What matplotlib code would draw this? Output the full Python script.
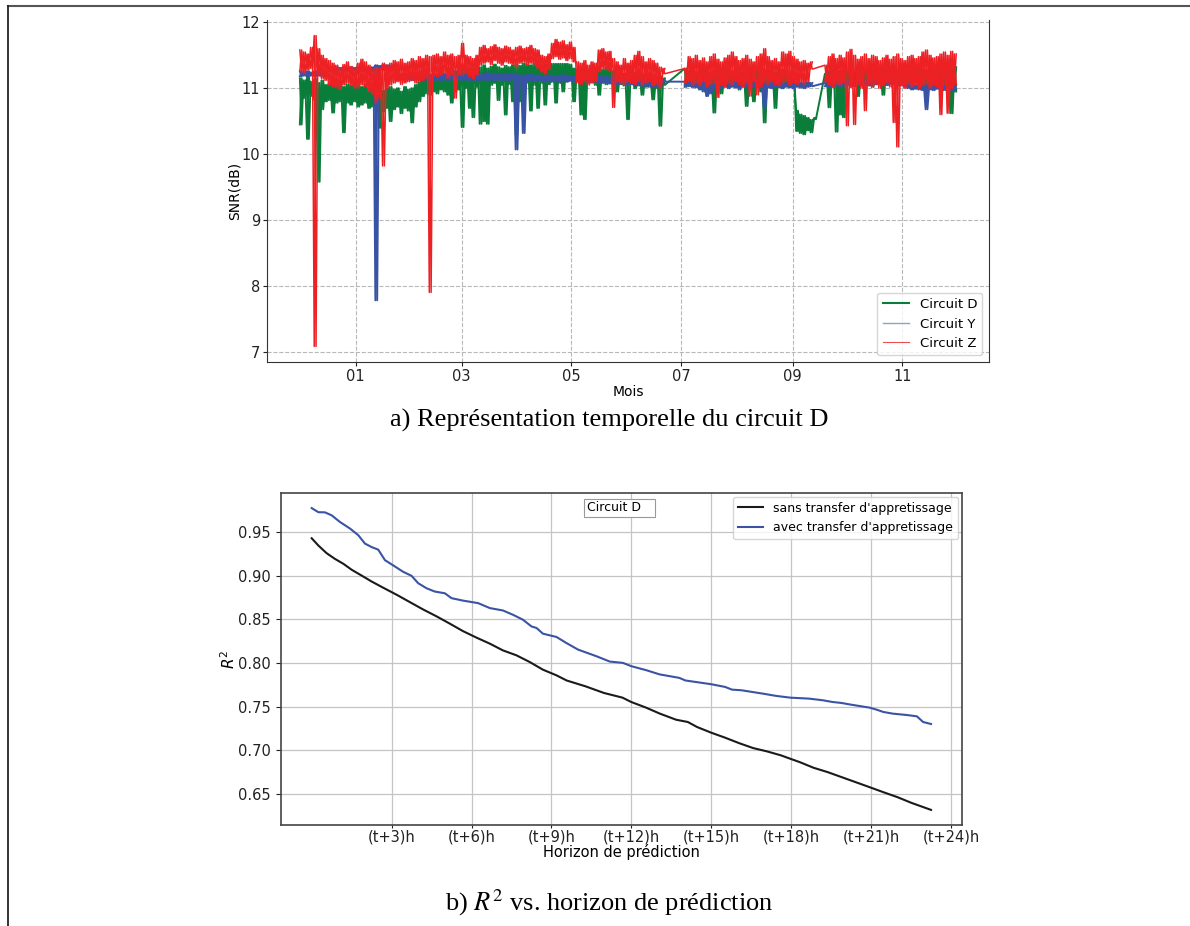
import datetime as dt
import matplotlib
matplotlib.use("Agg")
import matplotlib.pyplot as plt
import matplotlib.dates as mdates
from matplotlib.lines import Line2D

# keep every vertex of the dense bands
plt.rcParams['path.simplify'] = False

# ---- top chart: SNR per circuit, 2-day bins (high / low of the band) ----
start = dt.datetime(2018, 12, 1)

z_hi = [11.58, 11.55, 11.52, 11.62, 11.80, 11.60, 11.50, 11.45, 11.42, 11.38,
        11.35, 11.30, 11.36, 11.40, 11.33, 11.30, 11.38, 11.44, 11.40, 11.35,
        11.30, 11.32, 11.30, 11.38, 11.35, 11.38, 11.42, 11.40, 11.44, 11.38,
        11.40, 11.45, 11.42, 11.48, 11.45, 11.50, 11.48, 11.50, 11.52, 11.48,
        11.55, 11.50, 11.52, 11.48, 11.50, 11.68, 11.50, 11.48, 11.45, 11.50,
        11.62, 11.65, 11.60, 11.63, 11.66, 11.62, 11.60, 11.64, 11.62, 11.58,
        11.62, 11.64, 11.60, 11.62, 11.65, 11.60, 11.58, 11.50, 11.48, 11.52,
        11.68, 11.74, 11.70, 11.72, 11.66, 11.70, 11.62, 11.40, 11.38, 11.42,
        11.35, 11.40, 11.38, 11.58, 11.60, 11.55, 11.56, 11.45, 11.40, 11.35,
        11.45, 11.38, 11.42, 11.50, 11.56, 11.48, 11.40, 11.45, 11.42, 11.38,
        11.32, 11.30, None, None, None, None, None, 11.30, 11.48, 11.45,
        11.50, 11.42, 11.46, 11.40, 11.48, 11.52, 11.44, 11.40, 11.46, 11.50,
        11.55, 11.48, 11.42, 11.45, 11.50, 11.44, 11.40, 11.48, 11.52, 11.60,
        11.48, 11.42, 11.45, 11.40, 11.55, 11.52, 11.56, 11.48, 11.44, 11.40,
        11.42, 11.38, 11.40, None, None, None, 11.35, 11.48, 11.52, 11.45,
        11.50, 11.46, 11.55, 11.59, 11.50, 11.44, 11.48, 11.52, 11.45, 11.50,
        11.48, 11.42, 11.46, 11.50, 11.44, 11.48, 11.52, 11.45, 11.42, 11.48,
        11.50, 11.45, 11.48, 11.55, 11.58, 11.50, 11.46, 11.48, 11.52, 11.55,
        11.50, 11.56, 11.52]
z_lo = [11.25, 11.22, 11.28, 11.30, 7.08, 11.20, 11.15, 11.12, 11.05, 11.02,
        11.00, 10.98, 11.05, 11.08, 11.04, 11.00, 11.00, 11.05, 11.03, 10.95,
        10.90, 10.78, 10.85, 9.82, 11.00, 11.05, 11.08, 11.10, 11.06, 11.08,
        11.10, 11.12, 11.08, 11.10, 11.12, 11.15, 7.90, 11.20, 11.18, 11.20,
        11.22, 11.15, 11.20, 10.85, 11.20, 11.20, 11.22, 11.18, 11.15, 11.20,
        11.35, 11.38, 11.40, 11.36, 11.42, 11.38, 11.35, 11.40, 11.38, 11.36,
        11.32, 11.38, 11.40, 11.36, 11.38, 11.35, 11.30, 11.25, 11.22, 11.28,
        11.45, 11.48, 11.44, 11.46, 11.42, 11.45, 11.40, 11.08, 11.06, 11.10,
        11.05, 11.08, 11.10, 11.25, 11.30, 11.28, 11.26, 10.71, 11.10, 11.08,
        11.05, 11.10, 11.08, 11.06, 11.10, 11.05, 11.08, 11.10, 11.04, 11.06,
        11.00, 11.22, None, None, None, None, None, 11.08, 11.10, 11.05,
        11.08, 11.04, 11.10, 11.02, 11.06, 11.08, 10.86, 11.05, 11.02, 11.08,
        11.05, 11.10, 11.06, 11.02, 11.08, 10.88, 11.10, 10.90, 11.02, 11.08,
        11.05, 11.10, 11.06, 11.04, 11.08, 11.10, 11.05, 11.08, 11.06, 11.09,
        11.06, 11.10, 11.29, None, None, None, 11.10, 11.05, 11.02, 11.06,
        11.04, 11.08, 10.43, 11.02, 10.45, 11.06, 11.00, 10.66, 11.05, 11.02,
        11.06, 11.00, 11.04, 11.08, 11.02, 10.48, 10.11, 11.04, 11.00, 11.06,
        11.02, 11.05, 11.00, 11.04, 11.06, 11.00, 11.04, 11.02, 10.60, 11.05,
        10.62, 11.00, 11.06]

y_hi = [11.26, 11.25, 11.26, 11.24, 11.26, 11.25, 11.26, 11.25, 11.32, 11.31,
        11.32, 11.31, 11.32, 11.30, 11.32, 11.31, 11.32, 11.31, 11.32, 11.31,
        11.32, 11.35, 11.34, 11.36, 11.35, 11.34, 11.36, 11.22, 11.21, 11.22,
        11.20, 11.22, 11.21, 11.22, 11.20, 11.22, 11.21, 11.20, 11.22, 11.21,
        11.22, 11.20, 11.21, 11.22, 11.20, 11.22, 11.21, 11.22, 11.23, 11.21,
        11.22, 11.21, 11.23, 11.22, 11.21, 11.22, 11.20, 11.22, 11.21, 11.22,
        11.21, 11.20, 11.19, 11.20, 11.21, 11.19, 11.20, 11.18, 11.19, 11.20,
        11.19, 11.18, 11.19, 11.20, 11.18, 11.19, 11.18, 11.19, 11.20, 11.18,
        11.19, 11.18, 11.19, 11.18, 11.17, 11.18, 11.16, 11.17, 11.15, 11.16,
        11.15, 11.14, 11.15, 11.13, 11.14, 11.12, 11.13, 11.14, 11.12, 11.13,
        11.12, 11.12, None, None, None, None, None, 11.10, 11.09, 11.10,
        11.08, 11.09, 11.10, 11.06, 11.05, 11.08, 11.09, 11.08, 11.10, 11.09,
        11.08, 11.09, 11.10, 11.08, 11.09, 11.10, 11.08, 11.09, 11.08, 11.09,
        11.08, 11.10, 11.09, 11.08, 11.09, 11.08, 11.10, 11.09, 11.08, 11.09,
        11.08, 11.09, 11.08, None, None, None, 11.08, 11.10, 11.09, 11.11,
        11.10, 11.09, 11.11, 11.10, 11.09, 11.10, 11.11, 11.12, 11.10, 11.11,
        11.13, 11.14, 11.13, 11.14, 11.12, 11.13, 11.14, 11.12, 11.10, 11.08,
        11.06, 11.05, 11.06, 11.05, 11.06, 11.04, 11.05, 11.06, 11.05, 11.06,
        11.05, 11.06, 11.05]
y_lo = [11.18, 11.19, 11.18, 11.19, 11.18, 11.19, 11.18, 11.19, 11.26, 11.27,
        11.26, 11.27, 11.26, 11.27, 11.26, 11.27, 11.26, 11.27, 11.26, 11.27,
        11.26, 7.78, 11.28, 11.27, 11.28, 11.27, 11.28, 11.12, 11.13, 11.12,
        11.13, 11.12, 11.13, 11.12, 11.13, 11.12, 11.13, 11.12, 11.13, 11.12,
        11.13, 11.12, 11.13, 11.12, 11.13, 11.12, 11.13, 11.12, 11.13, 11.12,
        11.12, 11.13, 11.12, 11.13, 11.12, 11.13, 11.12, 11.13, 11.12, 11.13,
        10.07, 11.12, 10.32, 11.11, 11.12, 11.11, 11.12, 11.11, 11.10, 11.11,
        11.10, 11.11, 11.10, 11.11, 11.10, 11.11, 11.10, 11.11, 11.10, 11.11,
        11.10, 11.09, 11.10, 11.08, 11.09, 11.08, 11.07, 11.08, 11.06, 11.07,
        11.06, 11.05, 11.06, 11.04, 11.05, 11.03, 11.04, 11.02, 11.03, 11.02,
        11.03, 11.10, None, None, None, None, None, 11.02, 11.03, 11.02,
        11.01, 11.00, 10.95, 10.88, 10.92, 11.00, 11.02, 11.01, 11.02, 11.00,
        11.02, 11.01, 11.00, 11.02, 11.01, 11.00, 11.02, 11.01, 11.00, 10.70,
        11.01, 11.00, 11.02, 11.01, 11.00, 11.02, 11.01, 11.00, 11.02, 11.01,
        11.00, 11.02, 11.03, None, None, None, 11.03, 11.02, 11.03, 11.04,
        11.03, 11.04, 11.05, 11.04, 11.03, 11.05, 11.06, 11.05, 11.04, 11.06,
        11.06, 11.07, 11.06, 11.05, 11.06, 11.07, 11.05, 11.04, 11.02, 11.00,
        10.98, 10.99, 10.98, 10.97, 10.68, 10.98, 10.97, 10.99, 10.98, 10.97,
        10.98, 10.97, 10.98]

d_hi = [11.15, 11.12, 11.18, 11.10, 11.14, 11.08, 11.12, 11.05, 11.08, 11.10,
        11.05, 11.08, 11.02, 11.06, 11.04, 11.08, 11.05, 11.02, 11.06, 11.00,
        11.04, 10.98, 11.02, 10.96, 11.00, 11.02, 10.98, 11.00, 10.95, 11.02,
        10.98, 11.00, 11.05, 11.10, 11.15, 11.20, 11.18, 11.22, 11.20, 11.25,
        11.22, 11.20, 11.24, 11.26, 11.22, 11.30, 11.32, 11.28, 11.30, 11.34,
        11.32, 11.35, 11.30, 11.33, 11.36, 11.32, 11.30, 11.34, 11.32, 11.35,
        11.36, 11.34, 11.38, 11.36, 11.35, 11.38, 11.36, 11.34, 11.36, 11.37,
        11.37, 11.37, 11.37, 11.37, 11.37, 11.36, 11.30, 11.28, 11.30, 11.32,
        11.28, 11.30, 11.32, 11.30, 11.28, 11.32, 11.30, 11.26, 11.24, 11.26,
        11.22, 11.24, 11.26, 11.22, 11.25, 11.20, 11.22, 11.18, 11.20, 11.16,
        11.18, 11.15, None, None, None, None, None, 11.30, 11.26, 11.28,
        11.24, 11.26, 11.28, 11.25, 11.22, 11.26, 11.28, 11.24, 11.26, 11.28,
        11.25, 11.28, 11.26, 11.24, 11.28, 11.26, 11.25, 11.28, 11.26, 11.24,
        11.28, 11.26, 11.24, 11.26, 11.28, 11.25, 11.20, 11.15, 10.66, 10.60,
        10.58, 10.55, 10.52, 10.55, None, None, 11.22, 11.26, 11.28, 11.24,
        11.26, 11.28, 11.25, 11.28, 11.26, 11.30, 11.28, 11.26, 11.28, 11.30,
        11.28, 11.30, 11.30, 11.30, 11.30, 11.30, 11.28, 11.30, 11.27, 11.26,
        11.28, 11.25, 11.27, 11.28, 11.26, 11.28, 11.25, 11.27, 11.30, 11.28,
        11.26, 11.30, 11.32]
d_lo = [10.45, 10.85, 10.23, 10.88, 10.82, 9.58, 10.68, 10.80, 10.82, 10.63,
        10.78, 10.80, 10.33, 10.78, 10.75, 10.80, 10.72, 10.75, 10.78, 10.70,
        10.72, 10.68, 10.40, 10.65, 10.70, 10.50, 10.68, 10.72, 10.62, 10.70,
        10.66, 10.48, 10.72, 10.80, 10.88, 10.92, 10.90, 10.95, 10.92, 10.98,
        10.95, 10.90, 10.78, 10.95, 10.98, 10.41, 11.00, 10.70, 10.56, 11.02,
        10.46, 10.50, 10.46, 11.05, 11.08, 10.82, 11.05, 10.60, 11.06, 10.80,
        10.30, 10.80, 10.75, 11.08, 10.66, 11.05, 10.70, 11.08, 10.75, 11.06,
        11.10, 10.78, 11.08, 10.95, 11.10, 11.12, 10.80, 11.10, 10.60, 10.53,
        11.08, 11.10, 11.05, 10.90, 11.08, 11.06, 11.10, 11.05, 10.95, 11.06,
        11.04, 10.53, 11.06, 11.00, 11.04, 10.90, 11.02, 11.05, 10.83, 11.00,
        10.43, 11.05, None, None, None, None, None, 11.05, 11.08, 11.02,
        11.05, 10.98, 11.04, 11.02, 11.05, 10.63, 11.04, 10.92, 11.05, 11.02,
        11.04, 11.02, 10.98, 11.05, 10.73, 11.02, 10.80, 11.04, 10.95, 10.48,
        11.02, 11.05, 10.70, 11.04, 11.00, 11.05, 11.02, 11.08, 10.35, 10.32,
        10.30, 10.36, 10.33, 10.53, None, None, 11.10, 10.71, 11.02, 10.34,
        10.60, 10.56, 11.05, 11.02, 11.06, 10.88, 11.04, 11.08, 11.05, 11.02,
        11.06, 11.08, 10.90, 11.05, 11.08, 11.06, 11.04, 11.08, 11.05, 11.02,
        11.05, 11.08, 11.04, 11.06, 10.80, 11.05, 11.02, 11.06, 11.04, 11.05,
        11.02, 10.62, 10.95]

# ---- bottom chart: R2 vs prediction horizon (hours) ----
h_sans = [0, 0.25, 0.56, 0.87, 1.19, 1.5, 1.87, 2.25, 2.69, 3.19,
          3.69, 4.18, 4.69, 5.19, 5.68, 6.19, 6.69, 7.18, 7.69, 8.19,
          8.68, 9.19, 9.57, 10.27, 10.97, 11.67, 11.99, 12.55, 13.07, 13.68,
          14.12, 14.47, 15.0, 15.52, 16.04, 16.57, 17.09, 17.62, 17.97, 18.32,
          18.84, 19.37, 19.89, 20.42, 20.94, 21.46, 21.99, 22.51, 23.25]
r2_sans = [0.9431, 0.9348, 0.926, 0.9195, 0.9138, 0.907, 0.9004, 0.8935, 0.8863, 0.8783,
           0.8698, 0.8615, 0.8535, 0.8451, 0.8366, 0.8291, 0.8222, 0.8145, 0.8088, 0.8011,
           0.7924, 0.7859, 0.780, 0.7734, 0.7657, 0.7603, 0.7554, 0.7489, 0.742, 0.735,
           0.7324, 0.7266, 0.7201, 0.7144, 0.7082, 0.7025, 0.6987, 0.6941, 0.6902, 0.6864,
           0.6799, 0.6749, 0.6692, 0.6634, 0.6577, 0.6519, 0.6462, 0.6397, 0.6316]
h_avec = [0, 0.25, 0.5, 0.75, 1.06, 1.44, 1.75, 2.0, 2.25, 2.5,
          2.75, 3.06, 3.43, 3.75, 4.0, 4.31, 4.62, 5.0, 5.25, 5.68,
          6.25, 6.69, 7.18, 7.56, 7.93, 8.25, 8.44, 8.68, 9.19, 9.56,
          10.0, 10.69, 11.19, 11.68, 12.0, 12.56, 13.06, 13.8, 14.03, 15.0,
          15.52, 15.78, 16.13, 16.92, 17.44, 17.97, 18.67, 19.19, 19.54, 19.89,
          20.24, 20.94, 21.2, 21.46, 21.81, 22.34, 22.72, 22.95, 23.25]
r2_avec = [0.9777, 0.973, 0.9728, 0.9694, 0.9618, 0.9542, 0.9466, 0.937, 0.933, 0.930,
           0.918, 0.912, 0.9047, 0.900, 0.8915, 0.8858, 0.882, 0.880, 0.8744, 0.8716,
           0.8687, 0.863, 0.8603, 0.8553, 0.8497, 0.842, 0.8402, 0.8337, 0.8299, 0.823,
           0.8154, 0.8078, 0.8017, 0.8002, 0.7964, 0.7918, 0.787, 0.783, 0.780, 0.7757,
           0.7726, 0.7695, 0.7688, 0.765, 0.7623, 0.7603, 0.7592, 0.7573, 0.7554, 0.7542,
           0.7523, 0.7489, 0.7466, 0.7439, 0.742, 0.7404, 0.7389, 0.7324, 0.7301]
h_ticks = [3, 6, 9, 12, 15, 18, 21, 24]
h_labels = ['(t+%d)h' % h for h in h_ticks]


def band(hi, lo, flip=False):
    # each 2-day bin gives its high and its low; missing bins are skipped.
    # the flipped pass (low first) fills the band and breaks at the gaps
    t, v = [], []
    for k, (a, b) in enumerate(zip(hi, lo)):
        day = start + dt.timedelta(days=2 * k)
        if a is None:
            if flip:
                t.append(day)
                v.append(float('nan'))
            continue
        t += [day, day + dt.timedelta(days=1)]
        v += [b, a] if flip else [a, b]
    return t, v


def draw(ax, hi, lo, color, lw):
    for flip in (False, True):
        t, v = band(hi, lo, flip)
        ax.plot(t, v, color=color, lw=lw)


fig = plt.figure(figsize=(11.9, 9.26), dpi=100)

ax1 = fig.add_axes([0.2244, 0.6091, 0.6067, 0.3693])
draw(ax1, d_hi, d_lo, '#0b7d3a', 1.4)
draw(ax1, y_hi, y_lo, '#3953a4', 1.4)
draw(ax1, z_hi, z_lo, '#ed2024', 1.1)
ax1.xaxis.set_major_locator(mdates.MonthLocator(bymonth=[1, 3, 5, 7, 9, 11]))
ax1.xaxis.set_major_formatter(mdates.DateFormatter('%m'))
ax1.set_yticks([7, 8, 9, 10, 11, 12])
ax1.grid(True, ls='--', color='#b8b8b8', lw=0.8)
ax1.tick_params(labelsize=10.5, colors='#222222', length=3, pad=2)
ax1.spines['top'].set_visible(False)
for s in ['left', 'right', 'bottom']:
    ax1.spines[s].set_color('#333333')
ax1.set_ylabel('SNR(dB)', fontsize=10, labelpad=0)
ax1.set_xlabel('Mois', fontsize=10, labelpad=1)
handles = [Line2D([], [], color='#0b7d3a', lw=1.5),
           Line2D([], [], color='#3953a4', lw=1.0, alpha=0.55),
           Line2D([], [], color='#ed2024', lw=0.8, alpha=0.8)]
ax1.legend(handles, ['Circuit D', 'Circuit Y', 'Circuit Z'], loc='lower right', fontsize=9.5)

ax2 = fig.add_axes([0.2359, 0.1091, 0.5725, 0.3585])
ax2.plot(h_sans, r2_sans, color='#1a1a1a', lw=1.5, label="sans transfer d'appretissage")
ax2.plot(h_avec, r2_avec, color='#3a53a4', lw=1.5, label="avec transfer d'appretissage")
ax2.set_xticks(h_ticks)
ax2.set_xticklabels(h_labels)
ax2.grid(True, color='#c4c4c4', lw=0.9)
ax2.tick_params(labelsize=10.5, colors='#222222')
ax2.tick_params(axis='x', length=2, pad=1)
for s in ax2.spines.values():
    s.set_color('#444444')
    s.set_linewidth(1.2)
ax2.set_xlabel('Horizon de prédiction', fontsize=10.5, labelpad=0)
ax2.set_ylabel('$R^2$', fontsize=11, labelpad=0)
ax2.legend(loc='upper right', fontsize=9, borderaxespad=0.3)
ax2.text(0.449, 0.955, 'Circuit D   ', transform=ax2.transAxes, fontsize=9,
         ha='left', va='center',
         bbox=dict(boxstyle='square,pad=0.2', fc='white', ec='#999999', lw=0.8))

fig.text(0.512, 0.5464, 'a) Représentation temporelle du circuit D', ha='center', va='center',
         fontsize=19, family='Liberation Serif')
fig.text(0.512, 0.0248, 'b) $R^2$ vs. horizon de prédiction', ha='center', va='center',
         fontsize=19, family='Liberation Serif', math_fontfamily='stix')

fig.add_artist(Line2D([0.0071, 1.0], [0.9935, 0.9935], color='#555555', lw=1.5))
fig.add_artist(Line2D([0.0071, 0.0071], [0.0, 0.9935], color='#222222', lw=1.3))

fig.savefig('out.png', dpi=100)
